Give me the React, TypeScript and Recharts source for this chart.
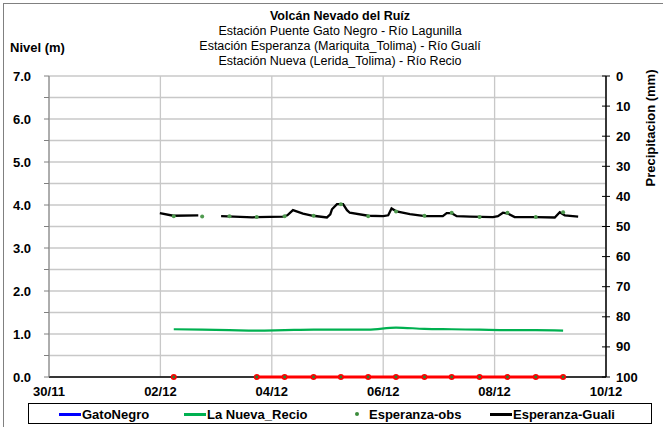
import React from 'react'
import { ComposedChart, Line, XAxis, YAxis, CartesianGrid, ReferenceLine } from 'recharts'

// dias contados desde 30/11 00:00
const xTicks = [0, 2, 4, 6, 8, 10]
const xTickLabels = ['30/11', '02/12', '04/12', '06/12', '08/12', '10/12']
const nivelTicks = [0, 0.5, 1, 1.5, 2, 2.5, 3, 3.5, 4, 4.5, 5, 5.5, 6, 6.5, 7]
const precipTicks = [0, 10, 20, 30, 40, 50, 60, 70, 80, 90, 100]

// Esperanza-Guali (nivel continuo)
const gualiT = [1.99, 2.23, 2.68, 2.85, 3.09, 3.55, 3.65, 3.73, 4.2, 4.28, 4.38, 4.47, 4.56, 4.74, 4.99, 5.05, 5.08, 5.17, 5.28, 5.35, 5.4, 5.73, 6.0, 6.09, 6.15, 6.24, 6.48, 6.75, 7.07, 7.14, 7.23, 7.32, 7.56, 7.97, 8.06, 8.15, 8.24, 8.36, 8.75, 9.08, 9.17, 9.26, 9.5]
const gualiNivel = [3.81, 3.75, 3.76, null, 3.74, 3.72, 3.71, 3.72, 3.73, 3.76, 3.88, 3.84, 3.8, 3.75, 3.71, 3.78, 3.9, 4.02, 4.02, 3.88, 3.82, 3.75, 3.74, 3.76, 3.92, 3.85, 3.79, 3.74, 3.74, 3.81, 3.81, 3.74, 3.73, 3.72, 3.74, 3.82, 3.8, 3.72, 3.72, 3.71, 3.83, 3.76, 3.73]

// lecturas cada 12 h
const obsT = [2.24, 2.75, 3.24, 3.73, 4.23, 4.75, 5.24, 5.73, 6.23, 6.74, 7.23, 7.73, 8.23, 8.74, 9.23]
const esperanzaObs = [3.74, 3.73, 3.74, 3.72, 3.74, 3.75, 4.02, 3.74, 3.85, 3.75, 3.82, 3.72, 3.82, 3.72, 3.83]
const nuevaRecio = [1.11, 1.1, 1.09, 1.08, 1.09, 1.1, 1.1, 1.1, 1.15, 1.12, 1.11, 1.1, 1.09, 1.09, 1.08]
const gatoNegro = [0, null, null, 0, 0, 0, 0, 0, 0, 0, 0, 0, 0, 0, 0]

const gualiData = gualiT.map((t, i) => ({ t, v: gualiNivel[i] }))
const obsData = obsT.map((t, i) => ({ t, obs: esperanzaObs[i], recio: nuevaRecio[i], gato: gatoNegro[i] }))

const FONT = '"Liberation Sans", Arial, sans-serif'

function RedDot(props: any) {
  const { cx, cy, value } = props
  if (value == null || cx == null) return null
  return (
    <g>
      <circle cx={cx} cy={cy} r={3} fill="#ff0000" />
      <circle cx={cx} cy={cy} r={1.4} fill="#2e7d32" />
    </g>
  )
}

function PrecipTick(props: any) {
  const { x, y, payload } = props
  return (
    <g>
      <line x1={x - 12} x2={x - 8} y1={y} y2={y} stroke="#000" />
      <text x={x + 2} y={y} dy="0.35em" fontSize={13} fontWeight="bold" fill="#000" fontFamily={FONT}>
        {payload.value}
      </text>
    </g>
  )
}

const legendItems = [
  { name: 'GatoNegro', color: '#0000ff', kind: 'line', left: 59 },
  { name: 'La Nueva_Recio', color: '#00b050', kind: 'line', left: 184 },
  { name: 'Esperanza-obs', color: '#3c8c3c', kind: 'dot', left: 346 },
  { name: 'Esperanza-Guali', color: '#000', kind: 'line', left: 490 },
]

export default function App() {
  return (
    <div style={{ position: 'absolute', left: 0, top: 0, width: 663, height: 427, background: '#fff', fontFamily: FONT }}>
      <div style={{ position: 'absolute', left: 3, top: 3, width: 700, height: 500, borderLeft: '1px solid #808080', borderTop: '1px solid #808080' }} />
      <div style={{ position: 'absolute', left: 140, width: 400, top: 9, textAlign: 'center', fontSize: 12.5, lineHeight: '15px', color: '#000' }}>
        <div style={{ fontWeight: 'bold' }}>Volcán Nevado del Ruíz</div>
        <div>Estación Puente Gato Negro - Río Lagunilla</div>
        <div>Estación Esperanza (Mariquita_Tolima) - Río Gualí</div>
        <div>Estación Nueva (Lerida_Tolima) - Río Recio</div>
      </div>
      <div style={{ position: 'absolute', left: 10, top: 40, fontSize: 13, fontWeight: 'bold' }}>Nivel (m)</div>
      <ComposedChart width={663} height={427} margin={{ top: 76, right: 17, bottom: 28, left: 8 }} style={{ position: 'absolute', left: 0, top: 0 }}>
        <CartesianGrid stroke="#c8c8c8" strokeWidth={1.3} yAxisId="nivel" />
        <XAxis
          type="number"
          dataKey="t"
          domain={[0, 10]}
          ticks={xTicks}
          tickFormatter={(v) => xTickLabels[xTicks.indexOf(v)] ?? ''}
          tick={{ fontSize: 13, fontWeight: 'bold', fill: '#000', fontFamily: FONT }}
          tickLine={false}
          tickSize={0}
          tickMargin={10}
          axisLine={false}
          height={22}
        />
        <YAxis
          yAxisId="nivel"
          domain={[0, 7]}
          ticks={nivelTicks}
          interval={0}
          tickFormatter={(v) => (v % 1 === 0 ? v.toFixed(1) : '')}
          tick={{ fontSize: 13, fontWeight: 'bold', fill: '#000', fontFamily: FONT }}
          tickLine={{ stroke: '#808080' }}
          tickSize={5}
          tickMargin={13}
          axisLine={{ stroke: '#808080' }}
          width={41}
        />
        <YAxis
          yAxisId="precip"
          orientation="right"
          reversed
          type="number"
          domain={[0, 100]}
          allowDataOverflow
          ticks={precipTicks}
          interval={0}
          tick={<PrecipTick />}
          tickLine={{ stroke: '#000' }}
          tickSize={4}
          tickMargin={4}
          axisLine={{ stroke: '#000', strokeWidth: 1.5 }}
          width={40}
          label={{
            content: (p: any) => {
              const vb = p.viewBox
              const cx = vb.x + vb.width + 9
              const cy = vb.y + 52
              return (
                <text x={cx} y={cy} transform={`rotate(-90 ${cx} ${cy})`} textAnchor="middle" fontSize={13} fontWeight="bold" fontFamily={FONT} fill="#000">
                  Precipitacion (mm)
                </text>
              )
            },
          }}
        />
        <ReferenceLine yAxisId="nivel" y={0} stroke="#000" strokeWidth={1.5} />
        <Line yAxisId="precip" data={obsData} dataKey="lluvia" stroke="none" dot={false} legendType="none" isAnimationActive={false} />
        <Line yAxisId="nivel" data={obsData} dataKey="recio" type="monotone" stroke="#00b050" strokeWidth={2.2} dot={false} isAnimationActive={false} />
        <Line yAxisId="nivel" data={gualiData} dataKey="v" type="linear" stroke="#000" strokeWidth={2.3} dot={false} isAnimationActive={false} />
        <Line yAxisId="nivel" data={obsData} dataKey="obs" stroke="none" dot={{ r: 2, fill: '#4f9a4f', stroke: 'none' }} isAnimationActive={false} />
        <Line yAxisId="nivel" data={obsData} dataKey="gato" type="linear" stroke="#ff0000" strokeWidth={3} dot={<RedDot />} isAnimationActive={false} />
      </ComposedChart>
      <div style={{ position: 'absolute', left: 28, top: 403, width: 624, height: 21, border: '1px solid #000', boxSizing: 'border-box' }}>
        {legendItems.map((it) => (
          <div key={it.name} style={{ position: 'absolute', left: it.left - 29, top: 2, height: 16, display: 'flex', alignItems: 'center', fontSize: 13, fontWeight: 'bold' }}>
            {it.kind === 'line' ? (
              <span style={{ display: 'inline-block', width: 22, height: 3, background: it.color }} />
            ) : (
              <span style={{ display: 'inline-block', width: 22, height: 3, position: 'relative' }}>
                <span style={{ position: 'absolute', left: 9, top: -1, width: 4, height: 4, borderRadius: 2, background: it.color }} />
              </span>
            )}
            <span style={{ marginLeft: 1 }}>{it.name}</span>
          </div>
        ))}
      </div>
    </div>
  )
}
